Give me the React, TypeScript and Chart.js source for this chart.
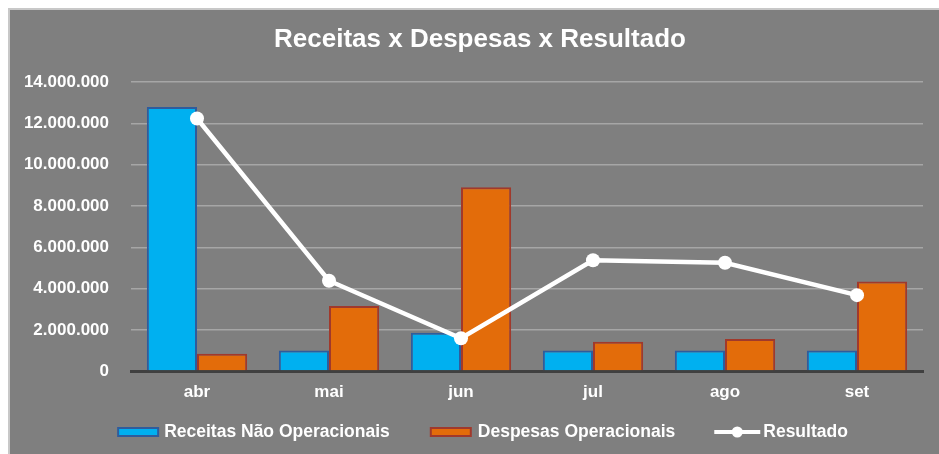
import React, { useEffect, useRef } from "react";
import { Chart, registerables } from "chart.js";

Chart.register(...registerables);

const categories = ["abr", "mai", "jun", "jul", "ago", "set"];
const receitas = [12800000, 1000000, 1860000, 1000000, 1000000, 1000000];
const despesas = [840000, 3160000, 8910000, 1420000, 1560000, 4340000];
const resultado = [12240000, 4380000, 1590000, 5370000, 5250000, 3680000];
const seriesNames = ["Receitas Não Operacionais", "Despesas Operacionais", "Resultado"];
const yMax = 14000000;
const yStep = 2000000;

const BLUE = "#00B0F0";
const BLUE_BORDER = "#2F5C9C";
const ORANGE = "#E36C0A";
const ORANGE_BORDER = "#A0392C";
const BG = "#7F7F7F";
const FONT = "'Liberation Sans', Arial, sans-serif";

function fmt(v: number) {
  return Math.round(v).toString().replace(/\B(?=(\d{3})+(?!\d))/g, ".");
}

const legendPlugin = {
  id: "customLegend",
  afterDraw(chart: any) {
    const ctx = chart.ctx as CanvasRenderingContext2D;
    ctx.save();
    ctx.font = `bold 17.5px ${FONT}`;
    ctx.textBaseline = "middle";
    ctx.textAlign = "left";
    const y = chart.height - 22;
    const w = seriesNames.map((t) => ctx.measureText(t).width);
    const total = 42 + 5 + w[0] + 40 + 42 + 6 + w[1] + 39 + 46 + 3 + w[2];
    let x = 472.5 - total / 2;
    const box = (fill: string, border: string) => {
      ctx.fillStyle = border;
      ctx.fillRect(x, y - 5, 42, 10);
      ctx.fillStyle = fill;
      ctx.fillRect(x + 2, y - 3, 38, 6);
    };
    box(BLUE, BLUE_BORDER);
    x += 42 + 5;
    ctx.fillStyle = "#FFFFFF";
    ctx.fillText(seriesNames[0], x, y);
    x += w[0] + 40;
    box(ORANGE, ORANGE_BORDER);
    x += 42 + 6;
    ctx.fillStyle = "#FFFFFF";
    ctx.fillText(seriesNames[1], x, y);
    x += w[1] + 39;
    ctx.strokeStyle = "#FFFFFF";
    ctx.lineWidth = 4;
    ctx.beginPath();
    ctx.moveTo(x, y);
    ctx.lineTo(x + 46, y);
    ctx.stroke();
    ctx.fillStyle = "#FFFFFF";
    ctx.beginPath();
    ctx.arc(x + 23, y, 5.5, 0, Math.PI * 2);
    ctx.fill();
    x += 46 + 3;
    ctx.fillText(seriesNames[2], x, y);
    ctx.restore();
  },
};

export default function App() {
  const ref = useRef<HTMLCanvasElement>(null);

  useEffect(() => {
    document.body.style.overflow = "hidden";
    if (!ref.current) return;
    Chart.defaults.font.family = FONT;
    const chart = new Chart(ref.current, {
      type: "bar",
      data: {
        labels: categories,
        datasets: [
          {
            type: "line",
            label: seriesNames[2],
            data: resultado,
            borderColor: "#FFFFFF",
            backgroundColor: "#FFFFFF",
            borderWidth: 4.5,
            pointRadius: 7,
            pointBackgroundColor: "#FFFFFF",
            pointBorderWidth: 0,
            tension: 0,
            order: 0,
          } as any,
          {
            type: "bar",
            label: seriesNames[0],
            data: receitas,
            backgroundColor: BLUE,
            borderColor: BLUE_BORDER,
            borderWidth: 2,
            categoryPercentage: 0.76,
            barPercentage: 1,
            order: 1,
          },
          {
            type: "bar",
            label: seriesNames[1],
            data: despesas,
            backgroundColor: ORANGE,
            borderColor: ORANGE_BORDER,
            borderWidth: 2,
            categoryPercentage: 0.76,
            barPercentage: 1,
            order: 1,
          },
        ],
      },
      plugins: [legendPlugin],
      options: {
        animation: false,
        responsive: false,
        maintainAspectRatio: false,
        layout: { padding: { left: 11, right: 0, top: 0, bottom: 39.5 } },
        plugins: {
          tooltip: { enabled: false },
          legend: { display: false },
          title: {
            display: true,
            text: "Receitas x Despesas x Resultado",
            color: "#FFFFFF",
            font: { size: 26, weight: "bold" },
            padding: { top: 14, bottom: 27 },
          },
        },
        scales: {
          x: {
            grid: { display: false, drawTicks: false },
            border: { display: true, color: "#404040", width: 3 },
            ticks: { color: "#FFFFFF", font: { size: 17, weight: "bold" }, padding: 11.5 },
          },
          y: {
            min: 0,
            max: yMax,
            afterFit: (s: any) => {
              s.width = 110;
            },
            grid: {
              drawTicks: false,
              color: (ctx: any) => (ctx.tick && ctx.tick.value === 0 ? "rgba(0,0,0,0)" : "#A6A6A6"),
              lineWidth: 1.5,
            },
            border: { display: false },
            ticks: {
              stepSize: yStep,
              color: "#FFFFFF",
              font: { size: 17, weight: "bold" },
              padding: 22,
              callback: (v: any) => fmt(Number(v)),
            },
          },
          y2: {
            position: "right",
            display: true,
            afterFit: (s: any) => {
              s.width = 16;
            },
            grid: { display: false, drawTicks: false },
            border: { display: false },
            ticks: { display: false },
          },
        },
      },
    });
    return () => chart.destroy();
  }, []);

  return (
    <div
      style={{
        position: "fixed",
        left: 8,
        top: 8,
        right: -20,
        bottom: -20,
        background: BG,
        borderTop: "2px solid #C8C8C8",
        borderLeft: "2px solid #C8C8C8",
        overflow: "hidden",
      }}
    >
      <canvas ref={ref} width={929} height={444} style={{ display: "block" }} />
    </div>
  );
}
